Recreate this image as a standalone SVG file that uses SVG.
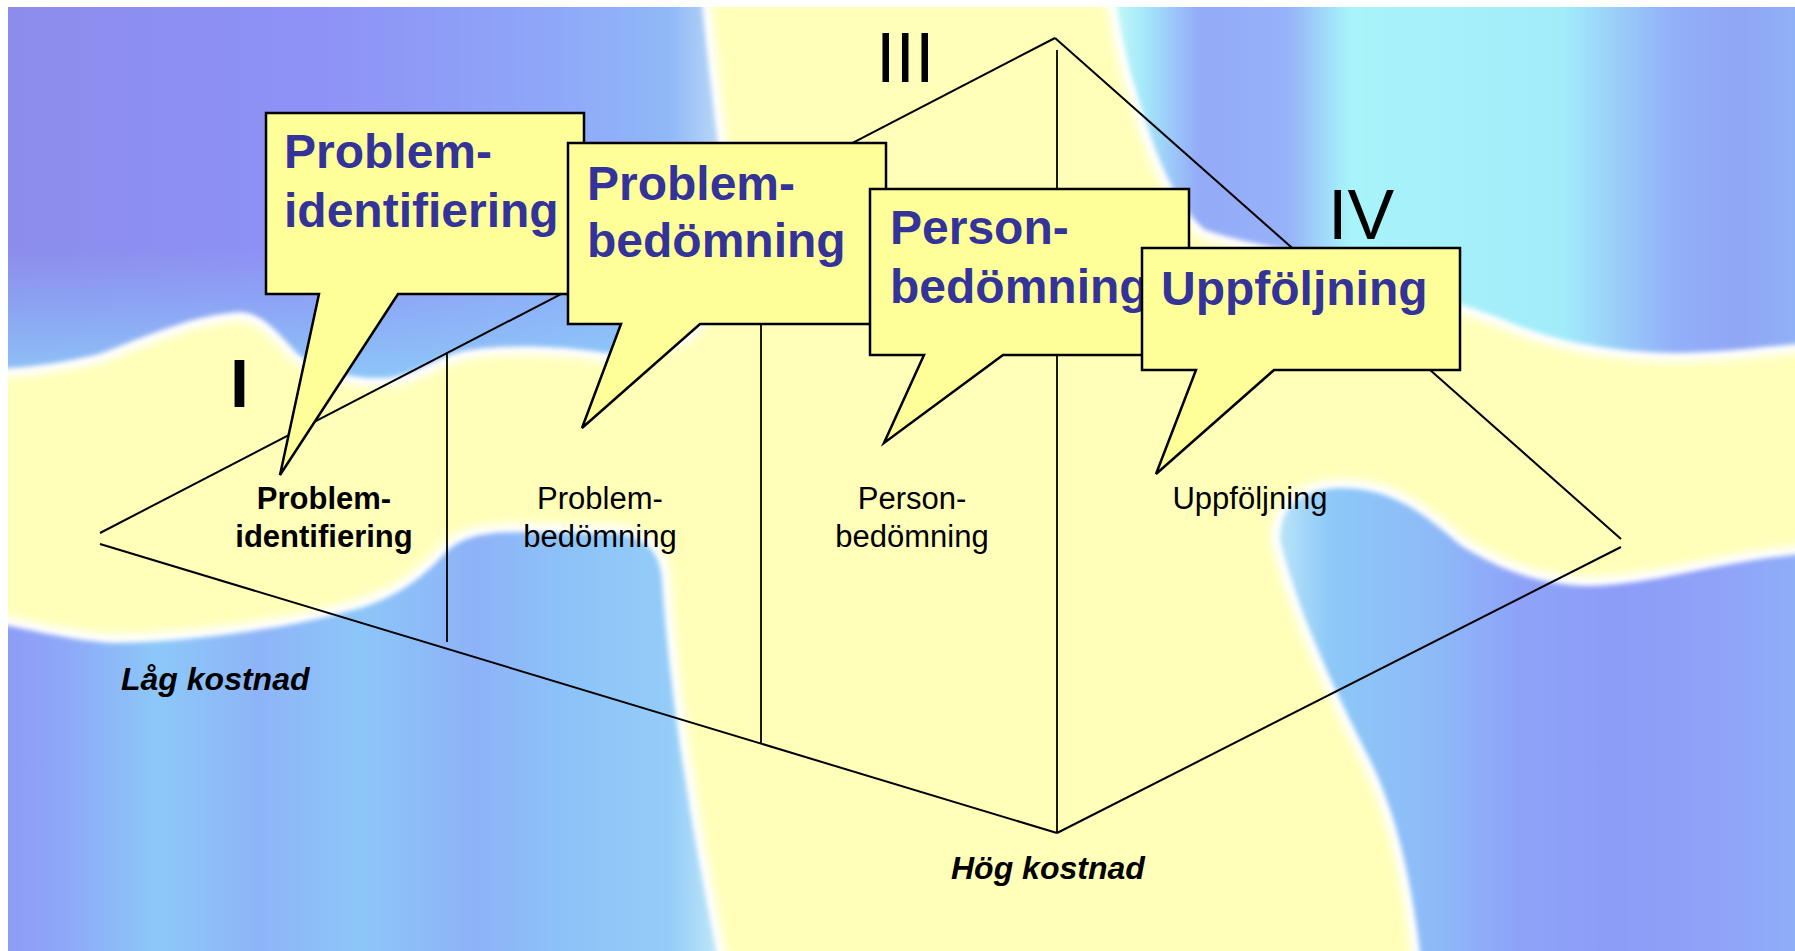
<svg xmlns="http://www.w3.org/2000/svg" width="1795" height="951" viewBox="0 0 1795 951">
<style>
.line{stroke:#000;stroke-width:2;fill:none}
.vline{stroke:#000;stroke-width:1.8;fill:none}
.callout{fill:#FFFF99;stroke:#000;stroke-width:2.5}
.title{font-family:"Liberation Sans",Arial,sans-serif;font-size:48px;font-weight:bold;fill:#333399}
.label{font-family:"Liberation Sans",Arial,sans-serif;font-size:31px;fill:#000;text-anchor:middle}
.bold{font-weight:bold}
.cost{font-family:"Liberation Sans",Arial,sans-serif;font-size:32px;font-weight:bold;font-style:italic;fill:#000}
.roman{font-family:"Liberation Sans",Arial,sans-serif;font-size:70px;fill:#000}
.halo{fill:none;stroke:#fff;stroke-width:18;filter:url(#halo)}
.blob{filter:url(#soft)}
</style>
<defs>
<clipPath id="frame"><rect x="8" y="7" width="1787" height="944"/></clipPath>
<filter id="halo" x="-20%" y="-20%" width="140%" height="140%"><feGaussianBlur stdDeviation="4.5"/></filter>
<filter id="soft" x="-10%" y="-10%" width="120%" height="120%"><feGaussianBlur stdDeviation="2.5"/></filter>
<linearGradient id="gTL" gradientUnits="userSpaceOnUse" x1="0" y1="0" x2="720" y2="0">
<stop offset="0" stop-color="#8C8CEC"/>
<stop offset="0.45" stop-color="#8E92F6"/>
<stop offset="0.75" stop-color="#8EA6F8"/>
<stop offset="0.93" stop-color="#90B8F8"/>
<stop offset="1" stop-color="#B8D8F6"/>
</linearGradient>
<linearGradient id="gTLv" gradientUnits="userSpaceOnUse" x1="0" y1="250" x2="0" y2="375">
<stop offset="0" stop-color="#8CC8F8" stop-opacity="0"/>
<stop offset="1" stop-color="#8CD0F8" stop-opacity="0.8"/>
</linearGradient>
<linearGradient id="gTR" gradientUnits="userSpaceOnUse" x1="1110" y1="0" x2="1795" y2="0">
<stop offset="0" stop-color="#C8FCF8"/>
<stop offset="0.05" stop-color="#A4E8FA"/>
<stop offset="0.13" stop-color="#94AAF8"/>
<stop offset="0.26" stop-color="#96B2F8"/>
<stop offset="0.35" stop-color="#A8F4FA"/>
<stop offset="0.66" stop-color="#A2ECFA"/>
<stop offset="0.82" stop-color="#92B0F8"/>
<stop offset="0.92" stop-color="#90A6F6"/>
<stop offset="1" stop-color="#90B0F6"/>
</linearGradient>
<linearGradient id="gLL" gradientUnits="userSpaceOnUse" x1="0" y1="0" x2="720" y2="0">
<stop offset="0" stop-color="#8E9AF6"/>
<stop offset="0.09" stop-color="#8EA8F8"/>
<stop offset="0.22" stop-color="#8CC8F8"/>
<stop offset="0.36" stop-color="#8EB4F8"/>
<stop offset="0.5" stop-color="#8CC6F8"/>
<stop offset="0.66" stop-color="#8EB2F8"/>
<stop offset="0.8" stop-color="#8CC4F8"/>
<stop offset="0.93" stop-color="#94CCF8"/>
<stop offset="1" stop-color="#C0E8F8"/>
</linearGradient>
<linearGradient id="gLR" gradientUnits="userSpaceOnUse" x1="1280" y1="0" x2="1795" y2="0">
<stop offset="0" stop-color="#B8E4F8"/>
<stop offset="0.1" stop-color="#8CC8F8"/>
<stop offset="0.3" stop-color="#8EBAF8"/>
<stop offset="0.45" stop-color="#8EA4F8"/>
<stop offset="0.65" stop-color="#8C9CF8"/>
<stop offset="0.85" stop-color="#90A2F8"/>
<stop offset="1" stop-color="#8EAEF8"/>
</linearGradient>
</defs>

<rect x="0" y="0" width="1795" height="951" fill="#FFFFFF"/>
<g id="background" clip-path="url(#frame)">
<rect x="0" y="0" width="1795" height="951" fill="#FFFFBA"/>
<path class="halo" d="M-20,-20 H700 C706,50 714,110 720,160 C728,230 720,300 690,330 C660,350 630,356 600,352 C560,346 500,343 459,352 C430,360 410,378 380,378 C340,378 310,365 296,352 C276,330 262,313 240,312 C200,314 160,330 102,353 C60,364 20,368 -20,370 Z"/>
<path class="halo" d="M1112,-20 H1815 V343 C1770,345 1740,352 1676,353 C1620,352 1560,345 1500,318 C1450,300 1400,283 1350,265 C1300,250 1250,245 1205,230 C1170,200 1150,140 1130,70 C1122,40 1118,15 1112,-20 Z"/>
<path class="halo" d="M-20,620 C30,630 80,642 115,643 C200,642 300,625 345,612 C400,600 430,570 448,550 C465,535 490,532 520,532 L620,534 C650,540 660,555 662,580 C670,700 690,820 720,970 L-20,970 Z"/>
<path class="halo" d="M1280,540 C1280,505 1300,490 1340,488 C1390,488 1420,510 1460,545 C1500,570 1540,585 1590,586 C1660,584 1720,560 1815,553 V970 H1422 C1415,900 1400,820 1370,760 C1340,700 1300,620 1280,540 Z"/>
<g class="blob">
<path fill="url(#gTL)" d="M-20,-20 H700 C706,50 714,110 720,160 C728,230 720,300 690,330 C660,350 630,356 600,352 C560,346 500,343 459,352 C430,360 410,378 380,378 C340,378 310,365 296,352 C276,330 262,313 240,312 C200,314 160,330 102,353 C60,364 20,368 -20,370 Z"/>
<path fill="url(#gTLv)" d="M-20,-20 H700 C706,50 714,110 720,160 C728,230 720,300 690,330 C660,350 630,356 600,352 C560,346 500,343 459,352 C430,360 410,378 380,378 C340,378 310,365 296,352 C276,330 262,313 240,312 C200,314 160,330 102,353 C60,364 20,368 -20,370 Z"/>
<path fill="url(#gTR)" d="M1112,-20 H1815 V343 C1770,345 1740,352 1676,353 C1620,352 1560,345 1500,318 C1450,300 1400,283 1350,265 C1300,250 1250,245 1205,230 C1170,200 1150,140 1130,70 C1122,40 1118,15 1112,-20 Z"/>
<path fill="url(#gLL)" d="M-20,620 C30,630 80,642 115,643 C200,642 300,625 345,612 C400,600 430,570 448,550 C465,535 490,532 520,532 L620,534 C650,540 660,555 662,580 C670,700 690,820 720,970 L-20,970 Z"/>
<path fill="url(#gLR)" d="M1280,540 C1280,505 1300,490 1340,488 C1390,488 1420,510 1460,545 C1500,570 1540,585 1590,586 C1660,584 1720,560 1815,553 V970 H1422 C1415,900 1400,820 1370,760 C1340,700 1300,620 1280,540 Z"/>
</g>
</g>

<g id="connectors">
<line class="line" x1="100" y1="533" x2="1055" y2="38"/>
<line class="line" x1="1055" y1="38" x2="1621" y2="539"/>
<line class="line" x1="100" y1="544" x2="1057" y2="833"/>
<line class="line" x1="1057" y1="833" x2="1621" y2="547"/>
<line class="vline" x1="447" y1="353" x2="447" y2="642"/>
<line class="vline" x1="761" y1="190" x2="761" y2="744"/>
<line class="vline" x1="1057" y1="50" x2="1057" y2="833"/>
</g>

<g id="labels">
<text class="label bold" x="324" y="509">Problem-</text>
<text class="label bold" x="324" y="547">identifiering</text>
<text class="label" x="600" y="509">Problem-</text>
<text class="label" x="600" y="547">bedömning</text>
<text class="label" x="912" y="509">Person-</text>
<text class="label" x="912" y="547">bedömning</text>
<text class="label" x="1250" y="509">Uppföljning</text>
<text class="cost" x="121" y="690">Låg kostnad</text>
<text class="cost" x="951" y="879">Hög kostnad</text>
<text class="roman bold" x="230" y="407" style="font-size:68px">I</text>
<text class="roman" x="876" y="82">III</text>
<text class="roman" x="1328" y="239">IV</text>
</g>

<g id="callout1">
<path class="callout" d="M266,113 H584 V294 H398 L280,475 L319,294 H266 Z"/>
<text class="title" x="284" y="168">Problem-</text>
<text class="title" x="284" y="227">identifiering</text>
</g>
<g id="callout2">
<path class="callout" d="M568,143 H886 V324 H700 L582,428 L621,324 H568 Z"/>
<text class="title" x="587" y="200">Problem-</text>
<text class="title" x="587" y="257">bedömning</text>
</g>
<g id="callout3">
<path class="callout" d="M870,189 H1189 V355 H1003 L884,443 L924,355 H870 Z"/>
<text class="title" x="890" y="244">Person-</text>
<text class="title" x="890" y="303">bedömning</text>
</g>
<g id="callout4">
<path class="callout" d="M1142,248 H1460 V370 H1274 L1156,474 L1196,370 H1142 Z"/>
<text class="title" x="1161" y="305">Uppföljning</text>
</g>
</svg>
